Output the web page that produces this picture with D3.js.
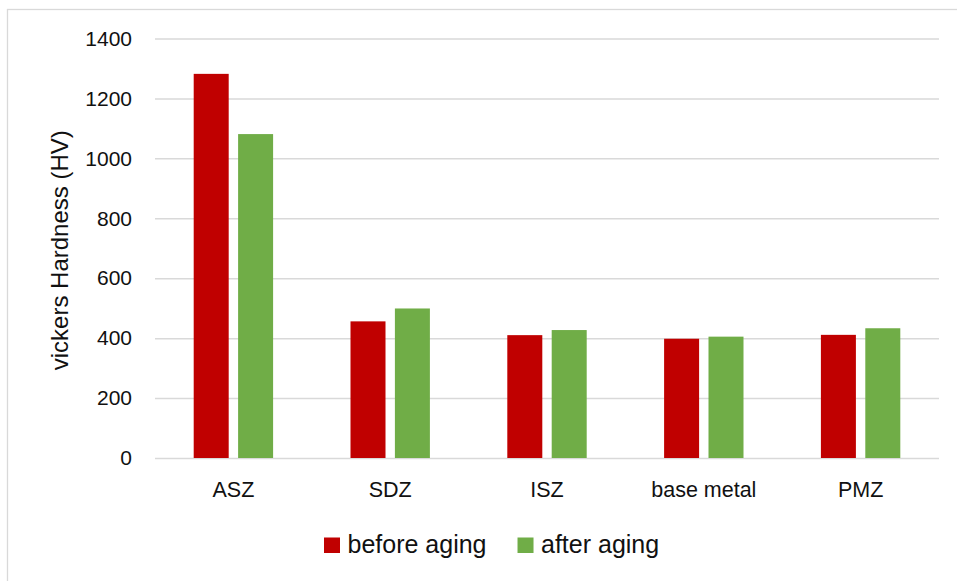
<!DOCTYPE html>
<html>
<head>
<meta charset="utf-8">
<script src="https://cdn.jsdelivr.net/npm/d3@7"></script>
<style>
  html, body { margin: 0; padding: 0; background: #fff; }
  svg { display: block; }
  text { font-family: "Liberation Sans", Arial, sans-serif; fill: #111; }
</style>
</head>
<body>
<svg id="chart" width="957" height="581"></svg>
<script>
// Hardness per zone, before and after aging
const categories = ["ASZ", "SDZ", "ISZ", "base metal", "PMZ"];
const seriesNames = ["before aging", "after aging"];
const beforeAging = [1282, 456, 410, 398, 411];
const afterAging = [1081, 499, 427, 405, 433];
const yTicks = [0, 200, 400, 600, 800, 1000, 1200, 1400];
const seriesColors = ["#c00000", "#70ad47"];
const yTitle = "vickers Hardness (HV)";

const svg = d3.select("#chart");
const W = 957, H = 581;

// outer chart frame (runs off the right and bottom edges)
svg.append("rect")
  .attr("x", 7.5).attr("y", 9.5)
  .attr("width", W + 20).attr("height", H + 20)
  .attr("fill", "#fff")
  .attr("stroke", "#d9d9d9").attr("stroke-width", 1.3);

const plot = { left: 155, right: 939, top: 38.5, bottom: 458 };

const y = d3.scaleLinear().domain([0, 1400]).range([plot.bottom, plot.top]);
const x0 = d3.scaleBand().domain(categories).range([plot.left, plot.right]).padding(0);
const x1 = d3.scaleBand().domain(seriesNames).range([0, 79.4]).paddingInner(9.4 / 44.4).paddingOuter(0);

// horizontal gridlines and tick labels
const yAxis = d3.axisLeft(y)
  .tickValues(yTicks)
  .tickSize(-(plot.right - plot.left))
  .tickPadding(23)
  .tickFormat(d3.format("d"));

const gy = svg.append("g")
  .attr("transform", `translate(${plot.left},0)`)
  .call(yAxis);
gy.select(".domain").remove();
gy.selectAll(".tick line").attr("stroke", "#d9d9d9").attr("stroke-width", 1.5);
gy.selectAll(".tick text")
  .attr("font-size", 21)
  .attr("fill", "#111")
  .style("font-family", "'Liberation Sans', Arial, sans-serif");

// category labels
const gx = svg.append("g")
  .attr("transform", `translate(0,${plot.bottom})`)
  .call(d3.axisBottom(x0).tickSize(0).tickPadding(24));
gx.select(".domain").remove();
gx.selectAll(".tick text")
  .attr("font-size", 21.5)
  .attr("fill", "#111")
  .style("font-family", "'Liberation Sans', Arial, sans-serif");

// bars
const rows = categories.map((c, i) => ({ cat: c, vals: [beforeAging[i], afterAging[i]] }));
const groups = svg.append("g").selectAll("g")
  .data(rows)
  .join("g")
  .attr("transform", d => `translate(${x0(d.cat) + (x0.bandwidth() - 79.4) / 2},0)`);

groups.selectAll("rect")
  .data(d => d.vals.map((v, j) => ({ name: seriesNames[j], value: v, color: seriesColors[j] })))
  .join("rect")
  .attr("x", d => x1(d.name))
  .attr("width", x1.bandwidth())
  .attr("y", d => y(d.value))
  .attr("height", d => y(0) - y(d.value))
  .attr("fill", d => d.color);

// y-axis title
svg.append("text")
  .attr("transform", `translate(68,${(plot.top + plot.bottom) / 2 + 2}) rotate(-90)`)
  .attr("text-anchor", "middle")
  .attr("font-size", 24)
  .text(yTitle);

// legend
const legend = svg.append("g").attr("transform", "translate(324,0)");
let cursor = 0;
seriesNames.forEach((name, j) => {
  const item = legend.append("g").attr("transform", `translate(${cursor},0)`);
  item.append("rect")
    .attr("x", 0).attr("y", 537.5)
    .attr("width", 16).attr("height", 15.5)
    .attr("fill", seriesColors[j]);
  const t = item.append("text")
    .attr("x", 23.5).attr("y", 552.5)
    .attr("font-size", 25)
    .text(name);
  cursor += 23.5 + t.node().getComputedTextLength() + 31;
});
</script>
</body>
</html>
